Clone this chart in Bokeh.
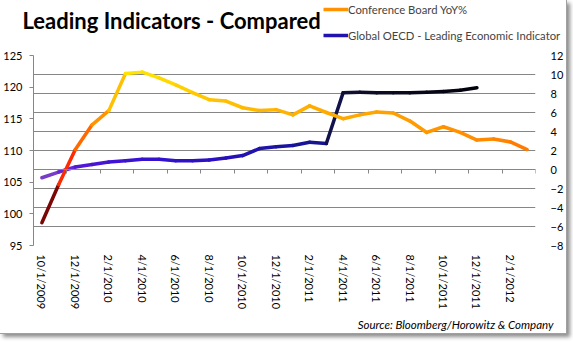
import numpy as np
from bokeh.plotting import figure
from bokeh.layouts import column
from bokeh.models import (Range1d, LinearAxis, FixedTicker, ColumnDataSource,
                          Legend, LegendItem, Title, Label)
from bokeh.embed import file_html
from bokeh.resources import INLINE

# ---------------- data ----------------
months = ["10/1/2009", "11/1/2009", "12/1/2009", "1/1/2010", "2/1/2010", "3/1/2010",
          "4/1/2010", "5/1/2010", "6/1/2010", "7/1/2010", "8/1/2010", "9/1/2010",
          "10/1/2010", "11/1/2010", "12/1/2010", "1/1/2011", "2/1/2011", "3/1/2011",
          "4/1/2011", "5/1/2011", "6/1/2011", "7/1/2011", "8/1/2011", "9/1/2011",
          "10/1/2011", "11/1/2011", "12/1/2011", "1/1/2012", "2/1/2012", "3/1/2012"]

# Conference Board YoY% (right axis)
conf_board = [-5.6, -1.6, 2.1, 4.7, 6.2, 10.1, 10.25, 9.65, 8.9, 8.1, 7.35, 7.2,
              6.5, 6.2, 6.3, 5.75, 6.7, 6.0, 5.35, 5.75, 6.05, 5.95, 5.1, 3.9,
              4.5, 3.9, 3.1, 3.2, 2.9, 2.1]

# Global OECD - Leading Economic Indicator (left axis)
oecd = [105.7, 106.6, 107.4, 107.8, 108.2, 108.4, 108.6, 108.6, 108.4, 108.4,
        108.5, 108.8, 109.2, 110.3, 110.6, 110.8, 111.3, 111.1, 119.1, 119.2,
        119.1, 119.1, 119.1, 119.2, 119.3, 119.5, 119.9]

left_ticks = [95, 100, 105, 110, 115, 120, 125]
right_ticks = [-8, -6, -4, -2, 0, 2, 4, 6, 8, 10, 12]
tick_labels = months[::2]

# ---------------- styles ----------------
conf_colors = ["#7a0606", "#ff2a00", "#ff6a00", "#ff9400", "#ffc000", "#ffe400",
               "#ffe000", "#ffd800", "#ffd000", "#ffc800", "#ffc200", "#ffbe00",
               "#ffba00", "#ffb600", "#ffb200", "#ffb000", "#ffac00", "#ffaa00",
               "#ffa800", "#ffa600", "#ffa200", "#ff9e00", "#ff9a00", "#ff9600",
               "#ff9200", "#ff8e00", "#ff8a00", "#ff8400", "#ff7c00"]
oecd_colors = ["#7a3cc8", "#6428d4", "#5218d8", "#4814d6", "#4012d4", "#3a12d2",
               "#3612d0", "#3212cc", "#3010c8", "#2e10c4", "#2a10c0", "#2610b8",
               "#2212b0", "#1e14a8", "#1a14a0", "#181498", "#161490", "#12124a",
               "#101030", "#0e0e28", "#0c0c22", "#0a0a1e", "#08081a", "#060616",
               "#040412", "#02020e"]

FONT = "Lato"
GRID = "#868686"
W = 566
HEAD_H = 47

x = np.arange(len(months)) + 0.5

conf_src = ColumnDataSource(dict(
    x0=x[:len(conf_board) - 1], x1=x[1:len(conf_board)],
    y0=conf_board[:-1], y1=conf_board[1:], color=conf_colors))
oecd_src = ColumnDataSource(dict(
    x0=x[:len(oecd) - 1], x1=x[1:len(oecd)],
    y0=oecd[:-1], y1=oecd[1:], color=oecd_colors))

# ---------------- main chart ----------------
p = figure(width=W, height=333 - HEAD_H, output_backend="svg", toolbar_location=None,
           x_range=Range1d(0, len(months)), y_range=Range1d(-8, 12),
           x_axis_location=None, y_axis_location="right",
           min_border_left=32, min_border_right=28, min_border_top=55 - HEAD_H,
           min_border_bottom=80)
p.frame_align = False
p.outline_line_color = None
p.background_fill_color = "white"
p.border_fill_color = "white"

p.extra_y_ranges = {"left": Range1d(95, 125)}

# right axis (primary, holds gridlines)
ra = p.yaxis[0]
ra.ticker = FixedTicker(ticks=right_ticks)
ra.axis_line_color = None
ra.major_tick_line_color = None
ra.minor_tick_line_color = None
ra.major_label_standoff = 9
ra.major_label_text_font = FONT
ra.major_label_text_font_size = "11px"
ra.major_label_text_color = "black"

p.ygrid.ticker = FixedTicker(ticks=right_ticks)
p.ygrid.grid_line_color = GRID
p.xgrid.visible = False

# left axis
la = LinearAxis(y_range_name="left", ticker=FixedTicker(ticks=left_ticks))
la.axis_line_color = GRID
la.major_tick_line_color = GRID
la.major_tick_out = 4
la.major_tick_in = 0
la.minor_tick_line_color = None
la.major_label_standoff = 7
la.major_label_text_font = FONT
la.major_label_text_font_size = "11px"
la.major_label_text_color = "black"
p.add_layout(la, "left")

# bottom label axis
xa = LinearAxis(ticker=FixedTicker(ticks=list(x[::2])))
xa.major_label_overrides = {float(t): lab for t, lab in zip(x[::2], tick_labels)}
xa.major_label_orientation = "vertical"
xa.axis_line_color = None
xa.major_tick_line_color = None
xa.major_tick_out = 0
xa.minor_tick_line_color = None
xa.major_label_standoff = 9
xa.major_label_text_font = FONT
xa.major_label_text_font_size = "11px"
xa.major_label_text_color = "black"
p.add_layout(xa, "below")

# category axis line crossing at 0 with boundary ticks
ta = LinearAxis(ticker=FixedTicker(ticks=list(range(0, len(months) + 1, 2))))
ta.fixed_location = 0
ta.axis_line_color = GRID
ta.major_tick_line_color = GRID
ta.major_tick_out = 4
ta.major_tick_in = 0
ta.minor_tick_line_color = None
ta.major_label_text_alpha = 0
ta.major_label_text_font_size = "1px"
p.add_layout(ta, "below")

# source note
p.add_layout(Title(text="Source: Bloomberg/Horowitz & Company", align="right",
                   text_font=FONT, text_font_style="italic", text_font_size="11.5px",
                   text_color="black", offset=-18, standoff=6), "below")

# series
r_oecd = p.segment("x0", "y0", "x1", "y1", source=oecd_src, line_color="color",
                   line_width=3.5, line_cap="round", y_range_name="left")
r_conf = p.segment("x0", "y0", "x1", "y1", source=conf_src, line_color="color",
                   line_width=3.5, line_cap="round")

# ---------------- header: title + legend ----------------
h = figure(width=W, height=HEAD_H, output_backend="svg", toolbar_location=None,
           x_range=Range1d(0, W), y_range=Range1d(HEAD_H, 0),
           x_axis_location=None, y_axis_location=None,
           min_border=0)
h.frame_align = False
h.outline_line_color = None
h.grid.visible = False
h.background_fill_color = "white"
h.border_fill_color = "white"

# legend keys reuse the series sources (hidden here, drawn in the chart below)
k_conf = h.segment("x0", "y0", "x1", "y1", source=conf_src, line_color="color",
                   line_width=3.5, visible=False)
k_oecd = h.segment("x0", "y0", "x1", "y1", source=oecd_src, line_color="color",
                   line_width=3.5, visible=False)

h.add_layout(Label(x=22, y=20, text="Leading Indicators - Compared",
                   text_font=FONT, text_font_style="bold", text_font_size="22px",
                   text_color="black", text_baseline="alphabetic", text_align="left"))

legend = Legend(items=[
    LegendItem(label="Conference Board YoY%", renderers=[k_conf], index=24),
    LegendItem(label="Global OECD - Leading Economic Indicator", renderers=[k_oecd], index=12),
], location=(323, HEAD_H - 42), orientation="vertical")
legend.padding = 0
legend.margin = 0
legend.border_line_color = None
legend.background_fill_alpha = 0
legend.inactive_fill_alpha = 0
legend.glyph_width = 25
legend.glyph_height = 14
legend.label_standoff = 0
legend.spacing = 12
legend.label_text_font = FONT
legend.label_text_font_size = "11.3px"
legend.label_height = 14
h.add_layout(legend, "center")

layout = column(h, p, spacing=0,
                styles={"border-right": "1px solid #a0a0a0",
                        "border-bottom": "1px solid #a0a0a0",
                        "box-shadow": "3px 3px 4px rgba(0,0,0,0.45)"})

open("out.html", "w").write(file_html(layout, INLINE))
